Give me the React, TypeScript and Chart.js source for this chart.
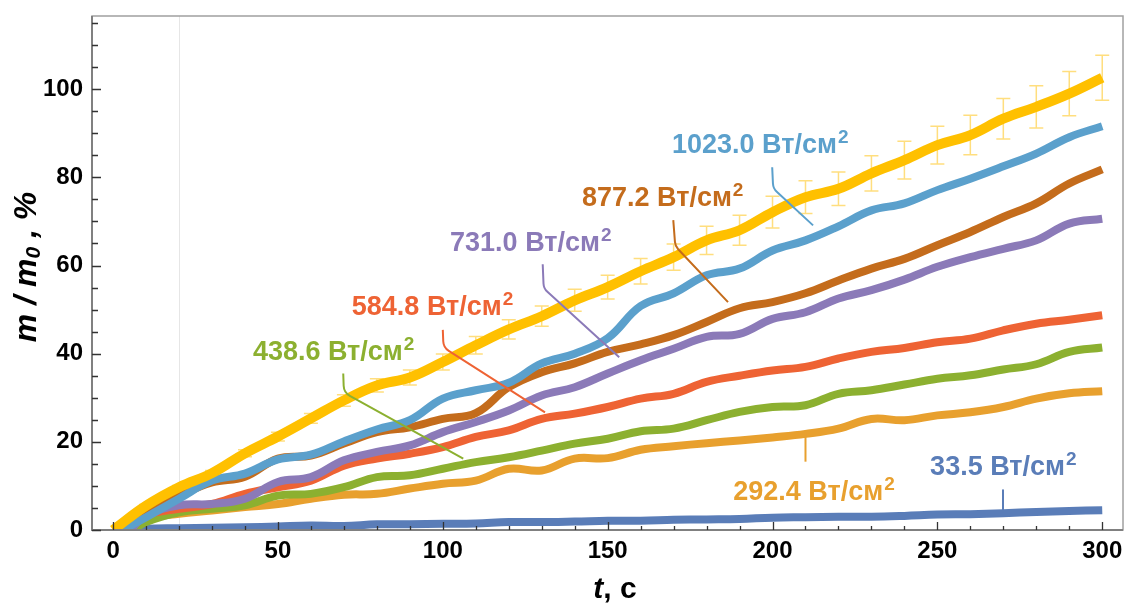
import React, { useEffect, useRef } from 'react';
import { Chart, registerables } from 'chart.js';

Chart.register(...registerables);

// ---- data ----
const TIMES = [10, 20, 30, 40, 50, 60, 70, 80, 90, 100, 110, 120, 130, 140, 150, 160, 170, 180, 190, 200, 210, 220, 230, 240, 250, 260, 270, 280, 290, 300];

const YELLOW = [5.5, 9.7, 12.9, 17.4, 21.2, 25.3, 29.4, 32.8, 34.6, 38.1, 41.9, 45.5, 48.5, 52.1, 55.1, 58.7, 61.9, 65.7, 68.0, 72.1, 75.5, 77.4, 80.9, 83.9, 87.3, 89.6, 93.3, 96.0, 99.0, 102.6];
const YELLOW_ERR = [0.3, 0.4, 0.6, 0.8, 1.0, 1.1, 1.3, 1.5, 1.7, 1.8, 2.0, 2.2, 2.3, 2.5, 2.7, 2.9, 3.0, 3.2, 3.4, 3.6, 3.7, 3.8, 4.0, 4.3, 4.3, 4.5, 4.6, 4.8, 5.0, 5.1];
const P1023 = [2.9, 7.1, 11.2, 12.8, 16.0, 17.1, 20.1, 22.8, 24.9, 29.8, 31.7, 33.4, 37.8, 40.0, 43.5, 50.8, 53.7, 57.8, 59.3, 63.4, 65.7, 68.9, 72.5, 74.1, 77.1, 79.7, 82.5, 85.4, 89.1, 91.6];
const P877 = [4.0, 7.8, 10.8, 12.1, 16.2, 16.9, 19.6, 22.2, 23.3, 25.2, 26.5, 32.4, 35.8, 37.8, 40.4, 42.1, 44.2, 47.2, 50.3, 51.7, 53.7, 56.6, 59.3, 61.5, 64.6, 67.6, 71.0, 74.1, 78.6, 81.8];
const P731 = [3.3, 5.6, 5.9, 7.1, 10.9, 12.0, 15.8, 17.7, 19.2, 22.2, 24.5, 27.1, 30.5, 32.4, 35.5, 38.5, 41.1, 43.8, 44.5, 47.9, 49.4, 52.5, 54.4, 56.8, 59.7, 61.9, 63.8, 65.7, 69.5, 70.6];
const P584 = [3.3, 4.8, 5.9, 8.2, 9.7, 11.2, 14.6, 16.2, 17.3, 18.8, 21.1, 22.6, 25.2, 26.4, 27.9, 29.8, 30.9, 33.6, 35.0, 36.2, 37.0, 38.9, 40.4, 41.3, 42.6, 43.4, 45.3, 46.8, 47.7, 48.7];
const P438 = [1.8, 4.0, 4.8, 5.6, 7.8, 8.2, 9.7, 12.0, 12.4, 13.9, 15.4, 16.5, 18.0, 19.6, 20.7, 22.4, 23.0, 24.9, 26.8, 27.9, 28.3, 30.9, 31.7, 33.0, 34.3, 35.1, 36.4, 37.6, 40.4, 41.4];
const P292 = [2.5, 3.7, 4.4, 5.2, 5.9, 7.1, 8.0, 8.2, 9.4, 10.5, 11.2, 13.9, 13.5, 16.2, 16.3, 18.2, 19.0, 19.7, 20.3, 21.0, 21.8, 23.0, 25.2, 24.9, 26.0, 26.7, 27.9, 29.8, 31.0, 31.5];
const P33 = [0.3, 0.4, 0.5, 0.6, 0.8, 1.0, 0.9, 1.3, 1.3, 1.4, 1.5, 1.8, 1.8, 1.9, 2.1, 2.1, 2.3, 2.4, 2.5, 2.8, 2.9, 3.0, 3.0, 3.2, 3.5, 3.6, 3.8, 4.1, 4.3, 4.5];

// series order: top-drawn first
const SERIES_VALUES = [YELLOW, P1023, P877, P731, P584, P438, P292, P33];
const SERIES_START = [0, 3, 3, 5, 4, 6, 3, 0];
const SERIES_COLORS = ['#FFC000', '#5BA0CC', '#C46C1C', '#8B7AB8', '#EE6334', '#8CB030', '#E8A02E', '#5A7DB8'];
const SERIES_WIDTHS = [10, 8, 8, 8, 8, 8, 8, 8];

const X_TICKS = [0, 50, 100, 150, 200, 250, 300];
const Y_TICKS = [0, 20, 40, 60, 80, 100];
const X_MINOR_STEP = 10;
const Y_MINOR_STEP = 5;
const X_MIN = -6.4;
const X_MAX = 306.3;
const Y_MIN = 0;
const Y_MAX = 116.6;
const GRID_T = 20;

// callout labels (data coordinates)
const LABEL_TEXTS = ['1023.0 Вт/см', '877.2 Вт/см', '731.0 Вт/см', '584.8 Вт/см', '438.6 Вт/см', '292.4 Вт/см', '33.5 Вт/см'];
const LABEL_COLORS = ['#5BA0CC', '#C46C1C', '#8B7AB8', '#EE6334', '#8CB030', '#E8A02E', '#5A7DB8'];
const LABEL_POS = [[169.5, 85.5], [142.2, 73.4], [102.2, 63.4], [72.4, 48.7], [42.4, 38.5], [188.1, 6.7], [247.8, 12.4]];
const CALLOUT_PATHS = [
  [[199.9, 82.3], [200.2, 77.5], [212.3, 69.1]],
  [[169.9, 70.3], [170.5, 64.4], [186.5, 51.7]],
  [[130.3, 60.3], [130.6, 54.8], [153.5, 39.2]],
  [[100.0, 45.4], [100.2, 41.4], [131.0, 26.7]],
  [[69.8, 35.5], [70.0, 31.2], [106.2, 16.2]],
  [[210.0, 22.0], [210.0, 15.5]],
  [[269.9, 9.2], [269.9, 4.0]],
];

const FONT = '"Liberation Sans", Arial, sans-serif';

const customPlugin = {
  id: 'customDraw',
  beforeDatasetsDraw(chart: any) {
    const { ctx, chartArea: a, scales } = chart;
    const x = scales.x, y = scales.y;
    ctx.save();
    ctx.strokeStyle = '#e6e6e6';
    ctx.lineWidth = 1;
    const gx = Math.round(x.getPixelForValue(GRID_T)) + 0.5;
    ctx.beginPath();
    ctx.moveTo(gx, a.top);
    ctx.lineTo(gx, a.bottom);
    ctx.stroke();

    ctx.strokeStyle = 'rgba(255, 200, 40, 0.6)';
    ctx.lineWidth = 1.5;
    TIMES.forEach((t, i) => {
      const v = YELLOW[i];
      const e = YELLOW_ERR[i];
      const px = x.getPixelForValue(t);
      const top = y.getPixelForValue(v + e);
      const bot = y.getPixelForValue(v - e);
      ctx.beginPath();
      ctx.moveTo(px, top);
      ctx.lineTo(px, bot);
      ctx.moveTo(px - 7, top);
      ctx.lineTo(px + 7, top);
      ctx.moveTo(px - 7, bot);
      ctx.lineTo(px + 7, bot);
      ctx.stroke();
    });
    ctx.restore();
  },
  afterDatasetsDraw(chart: any) {
    const { ctx, chartArea: a, scales } = chart;
    const x = scales.x, y = scales.y;
    ctx.save();

    // frame
    ctx.strokeStyle = '#a0a0a0';
    ctx.lineWidth = 1.5;
    ctx.strokeRect(a.left, a.top, a.right - a.left, a.bottom - a.top);
    ctx.strokeStyle = '#808080';
    ctx.lineWidth = 2;
    ctx.beginPath();
    ctx.moveTo(a.left, a.top);
    ctx.lineTo(a.left, a.bottom);
    ctx.lineTo(a.right, a.bottom);
    ctx.stroke();

    // ticks (inward)
    ctx.strokeStyle = '#333';
    ctx.lineWidth = 1.3;
    ctx.beginPath();
    for (let v = 0; v <= X_MAX; v += X_MINOR_STEP) {
      const px = Math.round(x.getPixelForValue(v)) + 0.5;
      const len = X_TICKS.includes(v) ? 8 : 4;
      ctx.moveTo(px, a.bottom);
      ctx.lineTo(px, a.bottom - len);
    }
    for (let v = 0; v <= Y_MAX; v += Y_MINOR_STEP) {
      const py = Math.round(y.getPixelForValue(v)) + 0.5;
      const len = Y_TICKS.includes(v) ? 9 : 6;
      ctx.moveTo(a.left, py);
      ctx.lineTo(a.left + len, py);
    }
    ctx.stroke();

    // callout lines
    CALLOUT_PATHS.forEach((path, i) => {
      ctx.strokeStyle = LABEL_COLORS[i];
      ctx.lineWidth = 2;
      const pts = path.map(([t, v]) => [x.getPixelForValue(t), y.getPixelForValue(v)]);
      ctx.beginPath();
      ctx.moveTo(pts[0][0], pts[0][1]);
      if (pts.length === 3) {
        ctx.arcTo(pts[1][0], pts[1][1], pts[2][0], pts[2][1], 12);
        ctx.lineTo(pts[2][0], pts[2][1]);
      } else {
        ctx.lineTo(pts[1][0], pts[1][1]);
      }
      ctx.stroke();
    });

    // labels
    LABEL_TEXTS.forEach((txt, i) => {
      const px = x.getPixelForValue(LABEL_POS[i][0]);
      const py = y.getPixelForValue(LABEL_POS[i][1]);
      ctx.fillStyle = LABEL_COLORS[i];
      ctx.textAlign = 'left';
      ctx.textBaseline = 'alphabetic';
      ctx.font = `bold 27px ${FONT}`;
      ctx.fillText(txt, px, py);
      const w = ctx.measureText(txt).width;
      ctx.font = `bold 19px ${FONT}`;
      ctx.fillText('2', px + w + 1, py - 10);
    });

    // y axis title
    ctx.fillStyle = '#000';
    ctx.save();
    ctx.translate(36, 267);
    ctx.rotate(-Math.PI / 2);
    const big = `italic bold 32px ${FONT}`;
    const small = `italic bold 21px ${FONT}`;
    ctx.font = big;
    const p1 = 'm / m';
    const p3 = ' , %';
    const w1 = ctx.measureText(p1).width;
    const w3 = ctx.measureText(p3).width;
    ctx.font = small;
    const w2 = ctx.measureText('0').width;
    const total = w1 + w2 + w3;
    let cx = -total / 2;
    ctx.textAlign = 'left';
    ctx.textBaseline = 'alphabetic';
    ctx.font = big;
    ctx.fillText(p1, cx, 0);
    cx += w1;
    ctx.font = small;
    ctx.fillText('0', cx, 4);
    cx += w2;
    ctx.font = big;
    ctx.fillText(p3, cx, 0);
    ctx.restore();

    // x axis title
    ctx.font = `italic bold 30px ${FONT}`;
    const wt = ctx.measureText('t').width;
    ctx.font = `bold 30px ${FONT}`;
    const wr = ctx.measureText(', с').width;
    let sx = 615 - (wt + wr) / 2;
    ctx.textAlign = 'left';
    ctx.textBaseline = 'alphabetic';
    ctx.font = `italic bold 30px ${FONT}`;
    ctx.fillText('t', sx, 598);
    ctx.font = `bold 30px ${FONT}`;
    ctx.fillText(', с', sx + wt, 598);

    ctx.restore();
  },
};

export default function App() {
  const ref = useRef<HTMLCanvasElement>(null);

  useEffect(() => {
    if (!ref.current) return;
    const datasets = SERIES_VALUES.map((vals, i) => ({
      data: [{ x: SERIES_START[i], y: 0 }, ...TIMES.map((t, j) => ({ x: t, y: vals[j] }))],
      borderColor: SERIES_COLORS[i],
      backgroundColor: SERIES_COLORS[i],
      borderWidth: SERIES_WIDTHS[i],
      pointRadius: 0,
      tension: 0.4,
      fill: false,
    }));
    const chart = new Chart(ref.current, {
      type: 'line',
      data: { datasets },
      options: {
        responsive: false,
        animation: false,
        devicePixelRatio: 1,
        layout: { padding: { top: 16, right: 2, left: 0, bottom: 0 } },
        plugins: { legend: { display: false }, tooltip: { enabled: false } },
        scales: {
          x: {
            type: 'linear',
            min: X_MIN,
            max: X_MAX,
            grid: { display: false, drawTicks: false },
            border: { display: false },
            ticks: { color: '#000', font: { family: FONT, size: 24, weight: 'bold' }, padding: 7, maxRotation: 0 },
            afterBuildTicks: (s: any) => { s.ticks = X_TICKS.map((v) => ({ value: v })); },
            afterFit: (s: any) => { s.height = 76; s.paddingLeft = 0; s.paddingRight = 0; },
          },
          y: {
            type: 'linear',
            min: Y_MIN,
            max: Y_MAX,
            grid: { display: false, drawTicks: false },
            border: { display: false },
            ticks: { color: '#000', font: { family: FONT, size: 24, weight: 'bold' }, padding: 9 },
            afterBuildTicks: (s: any) => { s.ticks = Y_TICKS.map((v) => ({ value: v })); },
            afterFit: (s: any) => { s.width = 92; s.paddingTop = 0; s.paddingBottom = 0; },
          },
        },
      } as any,
      plugins: [customPlugin],
    });
    return () => chart.destroy();
  }, []);

  return (
    <div style={{ position: 'absolute', left: 0, top: 0, width: 1125, height: 606, background: '#fff' }}>
      <canvas ref={ref} width={1125} height={606} />
    </div>
  );
}
